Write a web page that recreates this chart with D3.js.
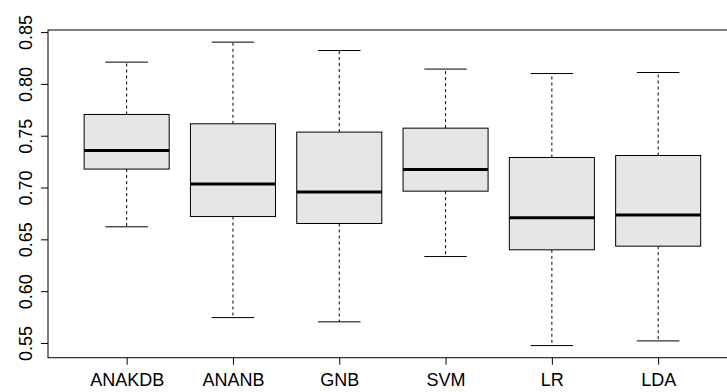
<!DOCTYPE html>
<html>
<head>
<meta charset="utf-8">
<script src="https://cdn.jsdelivr.net/npm/d3@7"></script>
<style>
  html, body { margin: 0; padding: 0; background: #ffffff; }
  svg { display: block; font-family: 'Liberation Sans', Arial, Helvetica, sans-serif; }
</style>
</head>
<body>
<svg id="chart" width="727" height="392"></svg>
<script>
const methods = ['ANAKDB', 'ANANB', 'GNB', 'SVM', 'LR', 'LDA'];
const lowerWhisker = [0.6621, 0.5745, 0.5704, 0.6334, 0.5475, 0.5520];
const lowerQuartile = [0.7178, 0.6720, 0.6653, 0.6965, 0.6399, 0.6434];
const medians = [0.7357, 0.7033, 0.6958, 0.7174, 0.6708, 0.6736];
const upperQuartile = [0.7705, 0.7615, 0.7535, 0.7573, 0.7290, 0.7309];
const upperWhisker = [0.8210, 0.8403, 0.8322, 0.8143, 0.8100, 0.8110];
const yTicks = [0.55, 0.60, 0.65, 0.70, 0.75, 0.80, 0.85];

const plotLeft = 48;
const plotTop = 30;
const plotBottom = 357.7;
const groupStep = 106.3;
const boxWidth = 0.8;

const svg = d3.select('#chart');

const boxes = methods.map((name, i) => ({
  name,
  pos: i + 1,
  lo: lowerWhisker[i],
  q1: lowerQuartile[i],
  med: medians[i],
  q3: upperQuartile[i],
  hi: upperWhisker[i],
}));

// R style ranges: 4% padding around the data on both axes
const yMin = d3.min(lowerWhisker);
const yMax = d3.max(upperWhisker);
const yPad = (yMax - yMin) * 0.04;
const y = d3.scaleLinear()
  .domain([yMin - yPad, yMax + yPad])
  .range([plotBottom, plotTop]);

const xLo = 0.5 - 0.04 * methods.length;
const xHi = methods.length + 0.5 + 0.04 * methods.length;
const x = d3.scaleLinear()
  .domain([xLo, xHi])
  .range([plotLeft, plotLeft + (xHi - xLo) * groupStep]);

const half = (boxWidth / 2) * groupStep;

const groups = svg.append('g')
  .selectAll('g.box')
  .data(boxes)
  .join('g')
  .attr('class', 'box');

// whiskers
groups.append('line')
  .attr('x1', (d) => x(d.pos)).attr('x2', (d) => x(d.pos))
  .attr('y1', (d) => y(d.q3)).attr('y2', (d) => y(d.hi))
  .attr('stroke', '#000').attr('stroke-width', 1)
  .attr('stroke-dasharray', '3,3');
groups.append('line')
  .attr('x1', (d) => x(d.pos)).attr('x2', (d) => x(d.pos))
  .attr('y1', (d) => y(d.q1)).attr('y2', (d) => y(d.lo))
  .attr('stroke', '#000').attr('stroke-width', 1)
  .attr('stroke-dasharray', '3,3');

// staples
groups.append('line')
  .attr('x1', (d) => x(d.pos) - half / 2).attr('x2', (d) => x(d.pos) + half / 2)
  .attr('y1', (d) => y(d.hi)).attr('y2', (d) => y(d.hi))
  .attr('stroke', '#000').attr('stroke-width', 1);
groups.append('line')
  .attr('x1', (d) => x(d.pos) - half / 2).attr('x2', (d) => x(d.pos) + half / 2)
  .attr('y1', (d) => y(d.lo)).attr('y2', (d) => y(d.lo))
  .attr('stroke', '#000').attr('stroke-width', 1);

// box
groups.append('rect')
  .attr('x', (d) => x(d.pos) - half)
  .attr('width', half * 2)
  .attr('y', (d) => y(d.q3))
  .attr('height', (d) => y(d.q1) - y(d.q3))
  .attr('fill', '#e6e6e6')
  .attr('stroke', '#000')
  .attr('stroke-width', 1);

// median
groups.append('line')
  .attr('x1', (d) => x(d.pos) - half).attr('x2', (d) => x(d.pos) + half)
  .attr('y1', (d) => y(d.med)).attr('y2', (d) => y(d.med))
  .attr('stroke', '#000').attr('stroke-width', 3);

// frame
svg.append('rect')
  .attr('x', x.range()[0])
  .attr('y', plotTop)
  .attr('width', x.range()[1] - x.range()[0])
  .attr('height', plotBottom - plotTop)
  .attr('fill', 'none')
  .attr('stroke', '#000')
  .attr('stroke-width', 1);

// y axis, labels rotated like R's las=0
const yAxis = svg.append('g')
  .attr('transform', `translate(${plotLeft},0)`)
  .call(d3.axisLeft(y).tickValues(yTicks).tickSize(7).tickFormat(d3.format('.2f')));
yAxis.select('.domain').remove();
yAxis.selectAll('line').attr('stroke', '#000');
yAxis.selectAll('text')
  .attr('transform', 'rotate(-90)')
  .attr('x', 0)
  .attr('y', -16.5)
  .attr('dy', null)
  .attr('text-anchor', 'middle')
  .attr('fill', '#000')
  .style('font-size', '18px')
  .style('font-family', "'Liberation Sans', Arial, Helvetica, sans-serif");

// x axis
const xAxis = svg.append('g')
  .attr('transform', `translate(0,${plotBottom})`)
  .call(d3.axisBottom(x).tickValues(boxes.map((d) => d.pos)).tickSize(7)
    .tickFormat((d) => methods[d - 1]));
xAxis.select('.domain').remove();
xAxis.selectAll('line').attr('stroke', '#000');
xAxis.selectAll('text')
  .attr('y', 28)
  .attr('dy', null)
  .attr('fill', '#000')
  .style('font-size', '18px')
  .style('font-family', "'Liberation Sans', Arial, Helvetica, sans-serif");
</script>
</body>
</html>
